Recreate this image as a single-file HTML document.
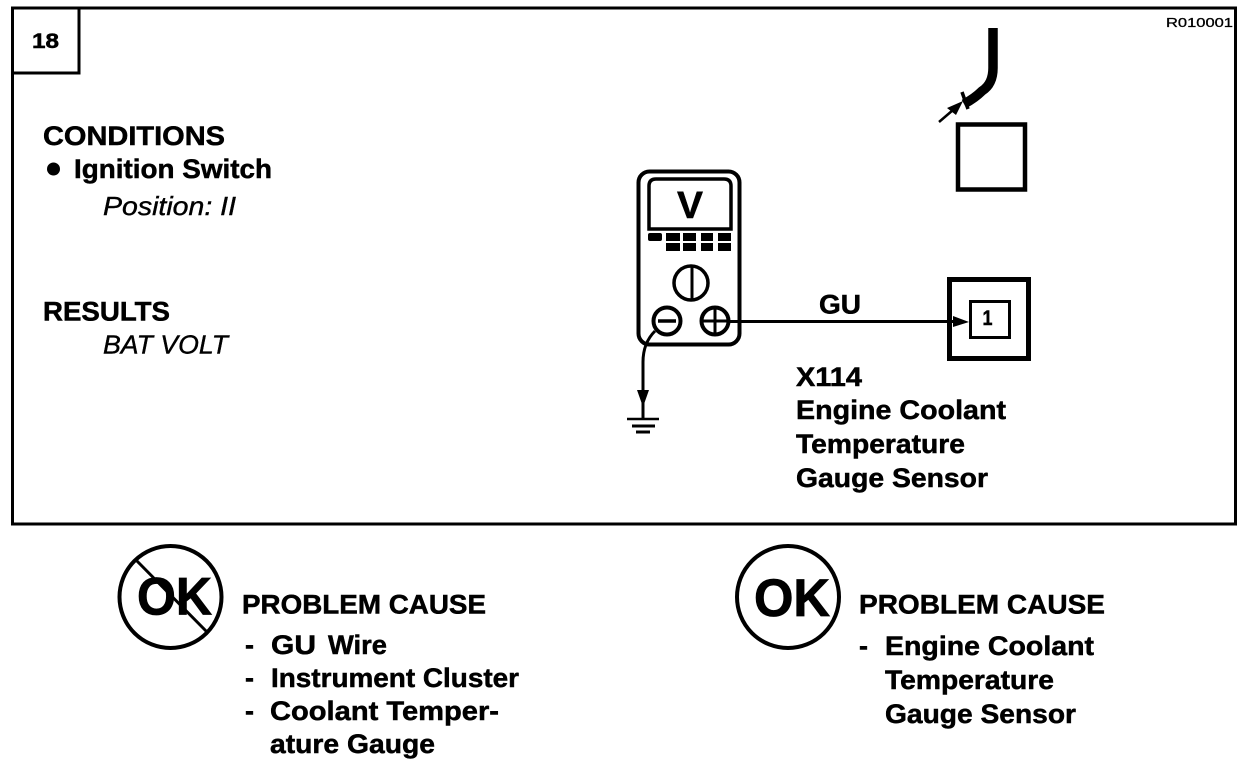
<!DOCTYPE html>
<html><head><meta charset="utf-8"><style>
html,body{margin:0;padding:0;background:#fff}
svg{display:block}
text{font-family:"Liberation Sans",sans-serif;fill:#000;font-weight:bold;stroke:#000;stroke-width:.5;font-size:27px}
.i{font-style:italic;font-weight:normal;stroke-width:.4;font-size:26px}
</style></head><body>
<svg width="1248" height="766" viewBox="0 0 1248 766" xmlns="http://www.w3.org/2000/svg">
<rect width="1248" height="766" fill="#fff"/>
<g fill="none" stroke="#000">
<rect x="12.500" y="8" width="1223" height="516" stroke-width="3"/>
<path d="M12 73H79V8" stroke-width="3"/>
<!-- meter -->
<rect x="638.500" y="171.500" width="101" height="173" rx="11" stroke-width="4"/>
<path d="M649 229V186Q649 179 656 179H724Q731 179 731 186V229Z" stroke-width="3.500"/>
<circle cx="691" cy="283" r="17" stroke-width="3.500"/>
<path d="M692 266V300" stroke-width="3"/>
<circle cx="667" cy="321" r="13.500" stroke-width="4"/>
<path d="M658 321H676" stroke-width="3.500"/>
<circle cx="715" cy="321" r="13.500" stroke-width="4"/>
<path d="M701 321H729M715 307V335" stroke-width="3"/>
<path d="M655 331Q643 343 643 362V420" stroke-width="3"/>
<path d="M627 419H659" stroke-width="2.500"/>
<path d="M632 426H655" stroke-width="3"/>
<path d="M636 432H650" stroke-width="3"/>
<!-- wire -->
<path d="M728 321.500H955" stroke-width="3"/>
<!-- connector -->
<rect x="949.500" y="279.500" width="79" height="79" stroke-width="5"/>
<rect x="970.500" y="301.500" width="39" height="36" stroke-width="3"/>
<!-- upper -->
<rect x="958" y="124.500" width="67" height="65" stroke-width="4.500"/>
<path d="M993 28V68Q993 84 982 91Q975 98 964 104" stroke-width="9.500"/>
<path d="M962 92L968 109" stroke-width="3.500"/>
<path d="M939 122L953 110" stroke-width="2.500"/>
<!-- OK circles -->
<circle cx="170.500" cy="597" r="51" stroke-width="4"/>
<circle cx="788" cy="597" r="51" stroke-width="4"/>
<path d="M136 560L207 632" stroke-width="3"/>
</g>
<g fill="#000">
<rect x="648" y="233" width="14" height="8" rx="2"/>
<rect x="666" y="233" width="14" height="8"/><rect x="683" y="233" width="13" height="8"/><rect x="701" y="233" width="12" height="8"/><rect x="718" y="233" width="13" height="8"/>
<rect x="666" y="243" width="14" height="8"/><rect x="683" y="243" width="13" height="8"/><rect x="701" y="243" width="12" height="8"/><rect x="718" y="243" width="13" height="8"/>
<path d="M637 390H649L643 407Z"/>
<path d="M953 316L969 322L953 327Z"/>
<path d="M963 101L947 108L956 115Z"/>
<circle cx="53.500" cy="169" r="6.500"/>
</g>
<text x="32" y="48" textLength="27" lengthAdjust="spacingAndGlyphs" style="font-size:21px">18</text>
<text x="1166" y="27" textLength="67" lengthAdjust="spacingAndGlyphs" style="font-size:13px;font-weight:normal;stroke-width:.3">R010001</text>
<text x="43" y="145" textLength="182" lengthAdjust="spacingAndGlyphs">CONDITIONS</text>
<text x="74" y="178" textLength="198" lengthAdjust="spacingAndGlyphs">Ignition Switch</text>
<text class="i" x="103" y="215" textLength="133" lengthAdjust="spacingAndGlyphs">Position: II</text>
<text x="43" y="320.500" textLength="127" lengthAdjust="spacingAndGlyphs">RESULTS</text>
<text class="i" x="103" y="353.500" textLength="125" lengthAdjust="spacingAndGlyphs">BAT VOLT</text>
<text x="677" y="218" textLength="26" lengthAdjust="spacingAndGlyphs" style="font-size:38px">V</text>
<text x="819" y="313.500" textLength="42" lengthAdjust="spacingAndGlyphs">GU</text>
<text x="982.500" y="325" textLength="10" lengthAdjust="spacingAndGlyphs" style="font-size:21px">1</text>
<text x="796" y="386" textLength="66" lengthAdjust="spacingAndGlyphs">X114</text>
<text x="796" y="419" textLength="210" lengthAdjust="spacingAndGlyphs">Engine Coolant</text>
<text x="796" y="453" textLength="169" lengthAdjust="spacingAndGlyphs">Temperature</text>
<text x="796" y="487" textLength="192" lengthAdjust="spacingAndGlyphs">Gauge Sensor</text>
<text x="137" y="614.500" textLength="75" lengthAdjust="spacingAndGlyphs" style="font-size:53px;stroke-width:.8">OK</text>
<text x="754" y="616" textLength="76" lengthAdjust="spacingAndGlyphs" style="font-size:53px;stroke-width:.8">OK</text>
<text x="242" y="613.500" textLength="244" lengthAdjust="spacingAndGlyphs">PROBLEM CAUSE</text>
<text x="859" y="613.500" textLength="246" lengthAdjust="spacingAndGlyphs">PROBLEM CAUSE</text>
<text x="245" y="654">-</text>
<text x="271" y="654" textLength="45" lengthAdjust="spacingAndGlyphs">GU</text>
<text x="328" y="654" textLength="59" lengthAdjust="spacingAndGlyphs">Wire</text>
<text x="245" y="687">-</text>
<text x="271" y="687" textLength="248" lengthAdjust="spacingAndGlyphs">Instrument Cluster</text>
<text x="245" y="720">-</text>
<text x="270" y="720" textLength="229" lengthAdjust="spacingAndGlyphs">Coolant Temper-</text>
<text x="270" y="753" textLength="165" lengthAdjust="spacingAndGlyphs">ature Gauge</text>
<text x="859" y="655">-</text>
<text x="885" y="655" textLength="209" lengthAdjust="spacingAndGlyphs">Engine Coolant</text>
<text x="885" y="689" textLength="169" lengthAdjust="spacingAndGlyphs">Temperature</text>
<text x="885" y="723" textLength="191" lengthAdjust="spacingAndGlyphs">Gauge Sensor</text>
</svg>
</body></html>
